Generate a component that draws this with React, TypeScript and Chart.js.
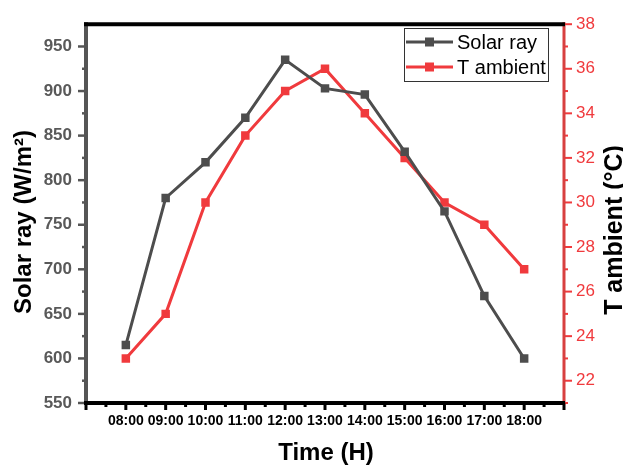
import React, { useEffect, useRef } from 'react';
import { Chart, registerables } from 'chart.js';

Chart.register(...registerables);

const timeLabels = ['08:00', '09:00', '10:00', '11:00', '12:00', '13:00', '14:00', '15:00', '16:00', '17:00', '18:00'];
const hours = [8, 9, 10, 11, 12, 13, 14, 15, 16, 17, 18];
const solarRay = [615, 780, 820, 870, 935, 903, 896, 832, 765, 670, 600];
const tAmbient = [23, 25, 30, 33, 35, 36, 34, 32, 30, 29, 27];
const solarTicks = [550, 600, 650, 700, 750, 800, 850, 900, 950];
const tempTicks = [22, 24, 26, 28, 30, 32, 34, 36, 38];
const seriesNames = ['Solar ray', 'T ambient'];

const GRAY = '#4d4d4d';
const RED = '#f03a3d';
const FONT = "Arial, 'Liberation Sans', sans-serif";

const decorPlugin = {
  id: 'decor',
  afterDraw(chart: any) {
    const { ctx, chartArea: a, scales } = chart;
    const xs = scales.x, yl = scales.y, yr = scales.y1;
    ctx.save();
    ctx.lineCap = 'butt';

    // left ticks
    ctx.strokeStyle = '#555555';
    ctx.lineWidth = 2.5;
    solarTicks.forEach((v, i) => {
      const py = yl.getPixelForValue(v);
      ctx.beginPath(); ctx.moveTo(a.left - 8, py); ctx.lineTo(a.left, py); ctx.stroke();
      if (i < solarTicks.length - 1) {
        const pm = yl.getPixelForValue((v + solarTicks[i + 1]) / 2);
        ctx.beginPath(); ctx.moveTo(a.left - 4, pm); ctx.lineTo(a.left, pm); ctx.stroke();
      }
    });

    // right ticks
    ctx.strokeStyle = RED;
    ctx.lineWidth = 2;
    tempTicks.forEach((v, i) => {
      const py = yr.getPixelForValue(v);
      ctx.beginPath(); ctx.moveTo(a.right, py); ctx.lineTo(a.right + 8, py); ctx.stroke();
      const pm = yr.getPixelForValue(v - 1);
      ctx.beginPath(); ctx.moveTo(a.right, pm); ctx.lineTo(a.right + 4, pm); ctx.stroke();
    });

    // bottom ticks
    ctx.strokeStyle = '#000';
    ctx.lineWidth = 3;
    const xmin = xs.min, xmax = xs.max;
    for (let h = xmin; h <= xmax; h += 1) {
      const px = xs.getPixelForValue(h);
      ctx.beginPath(); ctx.moveTo(px, a.bottom); ctx.lineTo(px, a.bottom + 7); ctx.stroke();
      if (h < xmax) {
        const pm = xs.getPixelForValue(h + 0.5);
        ctx.beginPath(); ctx.moveTo(pm, a.bottom); ctx.lineTo(pm, a.bottom + 4); ctx.stroke();
      }
    }

    // axis lines
    ctx.lineWidth = 4;
    ctx.strokeStyle = '#555555';
    ctx.beginPath(); ctx.moveTo(a.left, a.top - 2); ctx.lineTo(a.left, a.bottom + 2); ctx.stroke();
    ctx.lineWidth = 3;
    ctx.strokeStyle = '#d84040';
    ctx.beginPath(); ctx.moveTo(a.right, a.top - 2); ctx.lineTo(a.right, a.bottom + 2); ctx.stroke();
    ctx.lineWidth = 4;
    ctx.strokeStyle = '#000';
    ctx.beginPath(); ctx.moveTo(a.left - 2, a.top); ctx.lineTo(a.right + 1, a.top); ctx.stroke();
    ctx.beginPath(); ctx.moveTo(a.left - 2, a.bottom); ctx.lineTo(a.right + 1, a.bottom); ctx.stroke();

    // titles
    ctx.fillStyle = '#000';
    ctx.font = `bold 24px ${FONT}`;
    ctx.textAlign = 'center';
    ctx.textBaseline = 'alphabetic';
    ctx.save();
    ctx.translate(31, 222);
    ctx.rotate(-Math.PI / 2);
    ctx.fillText('Solar ray (W/m\u00B2)', 0, 0);
    ctx.restore();
    ctx.save();
    ctx.font = `bold 25px ${FONT}`;
    ctx.translate(622, 230);
    ctx.rotate(-Math.PI / 2);
    ctx.fillText('T ambient (\u00B0C)', 0, 0);
    ctx.restore();
    ctx.fillText('Time (H)', (a.left + a.right) / 2 + 1, 460);

    // legend
    ctx.strokeStyle = '#333';
    ctx.lineWidth = 1;
    ctx.strokeRect(404.5, 28.5, 144, 53);
    const rows = [
      { name: seriesNames[0], color: GRAY, y: 42 },
      { name: seriesNames[1], color: RED, y: 67 },
    ];
    ctx.font = `20px ${FONT}`;
    ctx.textAlign = 'left';
    ctx.textBaseline = 'middle';
    rows.forEach((r) => {
      ctx.strokeStyle = r.color;
      ctx.lineWidth = 3;
      ctx.beginPath(); ctx.moveTo(406, r.y); ctx.lineTo(453, r.y); ctx.stroke();
      ctx.fillStyle = r.color;
      ctx.fillRect(429.5 - 4.5, r.y - 4.5, 9, 9);
      ctx.fillStyle = '#000';
      ctx.fillText(r.name, 457, r.y + 1);
    });

    ctx.restore();
  },
};

export default function App() {
  const ref = useRef<HTMLCanvasElement | null>(null);
  useEffect(() => {
    if (!ref.current) return;
    const chart = new Chart(ref.current, {
      type: 'line',
      data: {
        datasets: [
          {
            label: seriesNames[0],
            data: hours.map((h, i) => ({ x: h, y: solarRay[i] })),
            borderColor: GRAY,
            backgroundColor: GRAY,
            borderWidth: 3,
            pointStyle: 'rect',
            pointRadius: 6,
            pointBorderWidth: 0,
            yAxisID: 'y',
            tension: 0,
          },
          {
            label: seriesNames[1],
            data: hours.map((h, i) => ({ x: h, y: tAmbient[i] })),
            borderColor: RED,
            backgroundColor: RED,
            borderWidth: 3,
            pointStyle: 'rect',
            pointRadius: 6,
            pointBorderWidth: 0,
            yAxisID: 'y1',
            tension: 0,
          },
        ],
      },
      options: {
        animation: false,
        responsive: false,
        devicePixelRatio: 1,
        layout: { padding: { top: 15, left: 0, right: 0, bottom: 0 } },
        plugins: { legend: { display: false }, tooltip: { enabled: false } },
        scales: {
          x: {
            type: 'linear',
            min: 7,
            max: 19,
            grid: { display: false, drawTicks: false },
            border: { display: false },
            afterBuildTicks: (s: any) => { s.ticks = hours.map((v) => ({ value: v })); },
            afterFit: (s: any) => { s.height = 65; },
            ticks: {
              autoSkip: false,
              maxRotation: 0,
              padding: 10,
              color: '#000',
              font: { family: FONT, size: 14, weight: 'bold' },
              callback: (v: any) => timeLabels[hours.indexOf(Number(v))] ?? '',
            },
          },
          y: {
            type: 'linear',
            position: 'left',
            min: 550,
            max: 975,
            grid: { display: false, drawTicks: false },
            border: { display: false },
            afterBuildTicks: (s: any) => { s.ticks = solarTicks.map((v) => ({ value: v })); },
            afterFit: (s: any) => { s.width = 86; },
            ticks: {
              padding: 14,
              color: '#595959',
              font: { family: FONT, size: 17, weight: 'bold' },
            },
          },
          y1: {
            type: 'linear',
            position: 'right',
            min: 21,
            max: 38,
            grid: { display: false, drawTicks: false },
            border: { display: false },
            afterBuildTicks: (s: any) => { s.ticks = tempTicks.map((v) => ({ value: v })); },
            afterFit: (s: any) => { s.width = 59; },
            ticks: {
              padding: 12,
              color: RED,
              font: { family: FONT, size: 17 },
            },
          },
        },
      },
      plugins: [decorPlugin],
    } as any);
    return () => chart.destroy();
  }, []);
  return (
    <div style={{ position: 'absolute', left: 0, top: 0, width: 623, height: 468, background: '#fff' }}>
      <canvas ref={ref} width={623} height={468} />
    </div>
  );
}
